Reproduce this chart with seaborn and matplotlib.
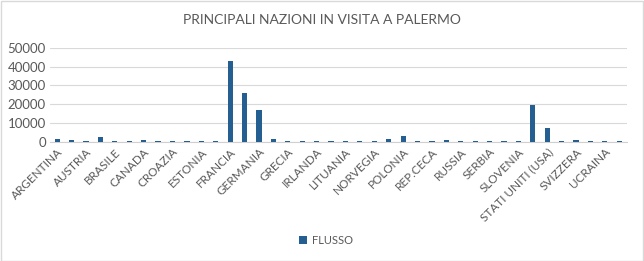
import matplotlib
matplotlib.use("Agg")
import matplotlib.pyplot as plt
import seaborn as sns
import pandas as pd
from matplotlib.patches import Rectangle

nazioni = ["ARGENTINA", "AUSTRALIA", "AUSTRIA", "BELGIO", "BRASILE", "BULGARIA",
           "CANADA", "CINA", "CROAZIA", "DANIMARCA", "ESTONIA", "FINLANDIA",
           "FRANCIA", "GRAN BRETAGNA", "GERMANIA", "GIAPPONE", "GRECIA", "INDIA",
           "IRLANDA", "ISRAELE", "LITUANIA", "LUSSEMBURGO", "NORVEGIA", "PAESI BASSI",
           "POLONIA", "PORTOGALLO", "REP.CECA", "ROMANIA", "RUSSIA", "SCOZIA",
           "SERBIA", "SLOVACCHIA", "SLOVENIA", "SPAGNA", "STATI UNITI (USA)", "SVEZIA",
           "SVIZZERA", "TURCHIA", "UCRAINA", "UNGHERIA"]
flusso = [1500, 1000, 700, 2600, 600, 600,
          1000, 600, 600, 500, 600, 600,
          43100, 26000, 17200, 1600, 700, 700,
          700, 700, 700, 700, 700, 1800,
          3200, 700, 700, 1000, 700, 700,
          700, 700, 700, 19600, 7500, 700,
          1000, 700, 700, 700]
titolo = "PRINCIPALI NAZIONI IN VISITA A PALERMO"
serie = "FLUSSO"
y_ticks = [0, 10000, 20000, 30000, 40000, 50000]

df = pd.DataFrame({"Nazione": nazioni, serie: flusso})

sns.set_theme(style="white")
plt.rcParams["font.family"] = ["Lato", "DejaVu Sans"]

fig = plt.figure(figsize=(6.44, 2.61), dpi=100)
ax = fig.add_axes([50/644, (261-142)/261, 576.5/644, (142-47.7)/261])

sns.barplot(data=df, x="Nazione", y=serie, color="#255e91", width=0.36,
            saturation=1, ax=ax, label=serie, zorder=3,
            edgecolor="none", linewidth=0)

ax.set_ylim(0, 50000)
ax.set_yticks(y_ticks)
ax.set_yticklabels([str(v) for v in y_ticks], fontsize=9.5, color="#595959")
ax.yaxis.grid(True, color="#d9d9d9", linewidth=0.8)
ax.set_axisbelow(True)
for s in ["top", "right", "left"]:
    ax.spines[s].set_visible(False)
ax.spines["bottom"].set_color("#d0d0d0")
ax.spines["bottom"].set_linewidth(0.8)
ax.spines["bottom"].set_zorder(1)
ax.tick_params(axis="both", length=0, pad=3)
ax.set_xlim(-0.5, len(nazioni) - 0.5)

pos = list(range(0, len(nazioni), 2))
ax.set_xticks(pos)
ax.set_xticklabels([nazioni[i] for i in pos], rotation=45, ha="right",
                   rotation_mode="anchor", fontsize=8.5, color="#595959")
ax.set_xlabel("")
ax.set_ylabel("")

fig.suptitle(titolo, x=0.5, y=1 - 20/261, va="center", fontsize=10, color="#595959")

leg = ax.legend(loc="center", bbox_to_anchor=(326/644, 1 - 240/261),
                bbox_transform=fig.transFigure, frameon=False, fontsize=8,
                handlelength=0.7, handleheight=0.7, handletextpad=0.4)
for t in leg.get_texts():
    t.set_color("#595959")

fig.patches.append(Rectangle((0.5/644, 0.5/261), 1 - 1.5/644, 1 - 1.5/261,
                             transform=fig.transFigure, fill=False,
                             edgecolor="#d9d9d9", linewidth=1))

fig.savefig("out.png", dpi=100)
